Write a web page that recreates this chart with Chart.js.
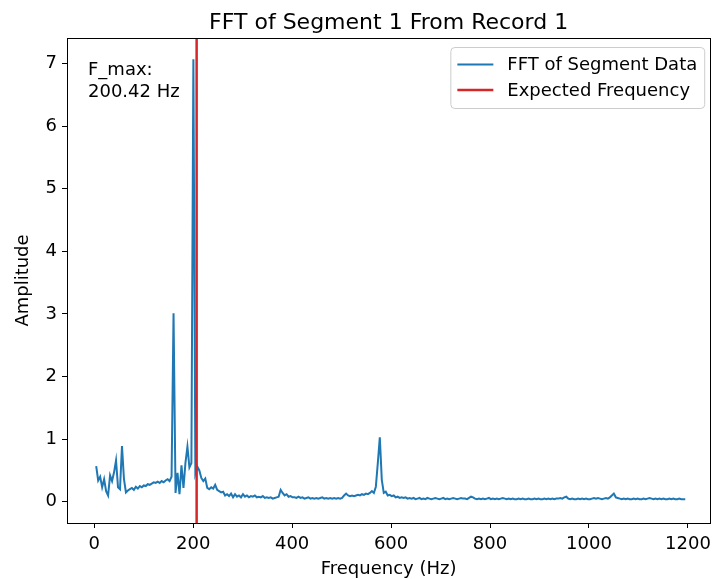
<!DOCTYPE html>
<html>
<head>
<meta charset="utf-8">
<script src="https://cdn.jsdelivr.net/npm/chart.js@4.4.1/dist/chart.umd.min.js"></script>
<style>
  body { margin: 0; background: #fff; }
  canvas { display: block; }
</style>
</head>
<body>
<canvas id="fftChart" width="717" height="579"></canvas>
<script>
const chartTitle = 'FFT of Segment 1 From Record 1';
const seriesLabels = ['FFT of Segment Data', 'Expected Frequency'];
const annotationLines = ['F_max:', '200.42 Hz'];

// bin spacing of the FFT (F_max 200.42 Hz is bin 50)
const binHz = 4.0084;
const amplitudes = [
  0.57, 0.34, 0.40, 0.23, 0.36, 0.17, 0.10, 0.42, 0.33, 0.47,
  0.66, 0.23, 0.20, 0.89, 0.36, 0.15, 0.18, 0.20, 0.22, 0.19,
  0.24, 0.21, 0.25, 0.23, 0.26, 0.25, 0.28, 0.27, 0.29, 0.31,
  0.30, 0.32, 0.30, 0.33, 0.31, 0.34, 0.36, 0.33, 0.40, 3.01,
  0.14, 0.46, 0.12, 0.58, 0.22, 0.62, 0.88, 0.55, 0.62, 7.07,
  0.45, 0.56, 0.50, 0.38, 0.33, 0.37, 0.22, 0.20, 0.23, 0.21,
  0.27, 0.19, 0.17, 0.15, 0.16, 0.10, 0.12, 0.09, 0.13, 0.07,
  0.12, 0.08, 0.10, 0.07, 0.12, 0.08, 0.10, 0.07, 0.09, 0.08,
  0.10, 0.07, 0.08, 0.07, 0.09, 0.06, 0.07, 0.06, 0.07, 0.05,
  0.06, 0.07, 0.08, 0.19, 0.14, 0.10, 0.12, 0.08, 0.09, 0.07,
  0.07, 0.06, 0.08, 0.06, 0.07, 0.05, 0.06, 0.07, 0.05, 0.06,
  0.05, 0.06, 0.05, 0.06, 0.07, 0.05, 0.06, 0.05, 0.06, 0.05,
  0.06, 0.05, 0.06, 0.05, 0.06, 0.10, 0.13, 0.10, 0.09, 0.10,
  0.09, 0.10, 0.11, 0.10, 0.12, 0.11, 0.13, 0.12, 0.14, 0.17,
  0.14, 0.24, 0.62, 1.03, 0.35, 0.14, 0.16, 0.10, 0.11, 0.09,
  0.10, 0.07, 0.08, 0.06, 0.07, 0.06, 0.07, 0.05, 0.06, 0.05,
  0.06, 0.04, 0.05, 0.06, 0.04, 0.05, 0.04, 0.06, 0.05, 0.04,
  0.05, 0.06, 0.05, 0.04, 0.05, 0.06, 0.04, 0.05, 0.04, 0.05,
  0.06, 0.05, 0.04, 0.05, 0.06, 0.05, 0.05, 0.04, 0.06, 0.08,
  0.07, 0.05, 0.04, 0.05, 0.04, 0.05, 0.04, 0.05, 0.06, 0.04,
  0.05, 0.04, 0.05, 0.04, 0.05, 0.06, 0.05, 0.04, 0.05, 0.04,
  0.05, 0.04, 0.04, 0.05, 0.04, 0.05, 0.04, 0.04, 0.05, 0.04,
  0.04, 0.05, 0.04, 0.05, 0.04, 0.04, 0.05, 0.04, 0.05, 0.04,
  0.05, 0.04, 0.05, 0.05, 0.06, 0.05, 0.07, 0.08, 0.05, 0.04,
  0.05, 0.04, 0.04, 0.05, 0.04, 0.05, 0.04, 0.05, 0.04, 0.04,
  0.05, 0.06, 0.05, 0.06, 0.05, 0.04, 0.05, 0.06, 0.05, 0.07,
  0.10, 0.13, 0.07, 0.06, 0.05, 0.04, 0.05, 0.04, 0.05, 0.04,
  0.04, 0.05, 0.04, 0.05, 0.04, 0.04, 0.05, 0.04, 0.05, 0.06,
  0.05, 0.04, 0.05, 0.04, 0.05, 0.04, 0.05, 0.04, 0.04, 0.05,
  0.04, 0.05, 0.04, 0.04, 0.05, 0.04, 0.04, 0.04
];
const expectedFreq = 207;

const xTicks = [0, 200, 400, 600, 800, 1000, 1200];
const yTicks = [0, 1, 2, 3, 4, 5, 6, 7];
const xRange = [-55, 1245];
const yRange = [-0.34, 7.41];

const fontFamily = '"DejaVu Sans", sans-serif';
const blue = '#1f77b4';
const red = '#d62728';

const fftPoints = amplitudes.map((a, i) => ({ x: binHz * (i + 1), y: a }));
const expectedPoints = [{ x: expectedFreq, y: yRange[0] }, { x: expectedFreq, y: yRange[1] }];

// spines on all four sides, title, text box and framed legend like matplotlib
const decorations = {
  id: 'decorations',
  afterDraw(chart) {
    const ctx = chart.ctx;
    const area = chart.chartArea;
    ctx.save();

    ctx.strokeStyle = '#000';
    ctx.lineWidth = 1;
    ctx.strokeRect(Math.round(area.left) + 0.5, Math.round(area.top) + 0.5,
      Math.round(area.right - area.left), Math.round(area.bottom - area.top));

    ctx.fillStyle = '#000';
    ctx.font = '22px ' + fontFamily;
    ctx.textAlign = 'center';
    ctx.textBaseline = 'alphabetic';
    ctx.fillText(chartTitle, (area.left + area.right) / 2, area.top - 9);

    ctx.font = '18px ' + fontFamily;
    ctx.textAlign = 'left';
    ctx.fillText(annotationLines[0], area.left + 21, area.top + 37);
    ctx.fillText(annotationLines[1], area.left + 21, area.top + 58.5);

    // legend
    const pad = 7, handle = 36, gap = 14;
    const textW = Math.max(...seriesLabels.map(t => ctx.measureText(t).width));
    const w = pad + handle + gap + textW + pad;
    const h = 61;
    const right = area.right - 6;
    const left = right - w;
    const top = area.top + 9;
    ctx.beginPath();
    ctx.roundRect(left + 0.5, top + 0.5, w, h, 4);
    ctx.fillStyle = 'rgba(255,255,255,0.8)';
    ctx.fill();
    ctx.strokeStyle = '#cccccc';
    ctx.lineWidth = 1;
    ctx.stroke();

    const rows = [top + 17.5, top + 43];
    chart.data.datasets.forEach((ds, i) => {
      ctx.beginPath();
      ctx.strokeStyle = ds.borderColor;
      ctx.lineWidth = ds.borderWidth;
      ctx.moveTo(left + pad, rows[i]);
      ctx.lineTo(left + pad + handle, rows[i]);
      ctx.stroke();
      ctx.fillStyle = '#000';
      ctx.textBaseline = 'middle';
      ctx.fillText(ds.label, left + pad + handle + gap, rows[i] + 1);
    });
    ctx.restore();
  }
};

Chart.defaults.font.family = fontFamily;
Chart.defaults.font.size = 18;
Chart.defaults.color = '#000';

const ctx = document.getElementById('fftChart').getContext('2d');
const chart = new Chart(ctx, {
  type: 'line',
  data: {
    datasets: [{
      label: seriesLabels[0],
      data: fftPoints,
      borderColor: blue,
      borderWidth: 2,
      pointRadius: 0,
      tension: 0,
      order: 1
    }, {
      label: seriesLabels[1],
      data: expectedPoints,
      borderColor: red,
      borderWidth: 2.5,
      pointRadius: 0,
      order: 0
    }]
  },
  options: {
    responsive: false,
    animation: false,
    devicePixelRatio: 1,
    layout: { padding: { top: 38, right: 4, left: 0, bottom: 0 } },
    plugins: {
      legend: { display: false },
      tooltip: { enabled: false },
      title: { display: false }
    },
    scales: {
      x: {
        type: 'linear',
        min: xRange[0],
        max: xRange[1],
        afterBuildTicks: s => { s.ticks = xTicks.map(v => ({ value: v })); },
        afterFit: s => { s.height = 56; },
        ticks: { padding: 6, maxRotation: 0, autoSkip: false, callback: v => String(v) },
        grid: { drawOnChartArea: false, tickLength: 5, color: '#000' },
        border: { display: true, color: '#000', width: 1 },
        title: { display: true, text: 'Frequency (Hz)', padding: { top: 0, bottom: -1 } }
      },
      y: {
        type: 'linear',
        min: yRange[0],
        max: yRange[1],
        afterBuildTicks: s => { s.ticks = yTicks.map(v => ({ value: v })); },
        afterFit: s => { s.width = 67; },
        ticks: { padding: 5, callback: v => String(v) },
        grid: { drawOnChartArea: false, tickLength: 5, color: '#000' },
        border: { display: true, color: '#000', width: 1 },
        title: { display: true, text: 'Amplitude', padding: { top: 13, bottom: 0 } }
      }
    }
  },
  plugins: [decorations]
});
</script>
</body>
</html>
